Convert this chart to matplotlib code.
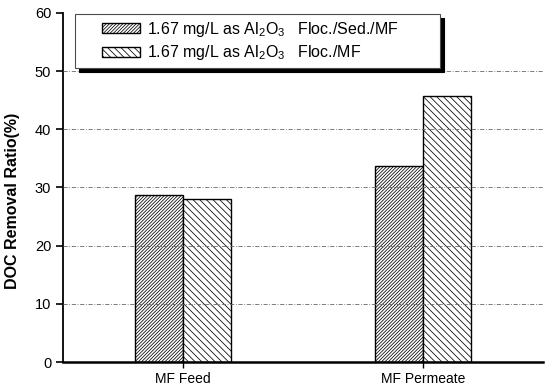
import matplotlib
matplotlib.use("Agg")
import matplotlib.pyplot as plt
import numpy as np
from matplotlib.container import BarContainer
from matplotlib.legend_handler import HandlerPatch, update_from_first_child
from matplotlib.patches import Rectangle

plt.rcParams["font.family"] = ["Liberation Sans", "DejaVu Sans"]
plt.rcParams["mathtext.default"] = "regular"
plt.rcParams["hatch.linewidth"] = 0.55

# --- Data --------------------------------------------------------------------
categories = ["MF Feed", "MF Permeate"]
sed_mf = [28.7, 33.7]      # Floc./Sed./MF
floc_mf = [28.1, 45.8]     # Floc./MF
series_labels = [
    "1.67 mg/L as Al$_2$O$_3$   Floc./Sed./MF",
    "1.67 mg/L as Al$_2$O$_3$   Floc./MF",
]
yticks = [0, 10, 20, 30, 40, 50, 60]


# legend swatch pushed to the right so the frame has a wide left margin
def shifted_swatch(legend, orig_handle, xdescent, ydescent, width, height, fontsize):
    off = 1.35 * fontsize
    return Rectangle((-xdescent + off, -ydescent), width - off, height)


# --- Figure ------------------------------------------------------------------
fig = plt.figure(figsize=(5.45, 3.89), dpi=100)
ax = fig.add_axes([0.1156, 0.0694, 0.8804, 0.8972])

x = np.arange(len(categories))
w = 0.2
ax.bar(x - w / 2, sed_mf, w, facecolor="white", edgecolor="black",
       linewidth=1.0, hatch="/" * 10, label=series_labels[0], zorder=2)
ax.bar(x + w / 2, floc_mf, w, facecolor="white", edgecolor="black",
       linewidth=1.0, hatch="\\" * 5, label=series_labels[1], zorder=2)

# dash-dot horizontal grid drawn over the bars
for yv in yticks[1:-1]:
    ax.axhline(yv, color="0.4", linewidth=0.6,
               linestyle=(0, (5, 2, 1, 2)), zorder=3)

ax.set_xlim(-0.5, 1.5)
ax.set_ylim(0, 60)
ax.set_yticks(yticks)
ax.set_xticks(x)
ax.set_xticklabels(categories, fontsize=10)
ax.tick_params(axis="y", labelsize=10.5, direction="out", length=5, width=1.2)
ax.tick_params(axis="x", direction="out", length=4, width=1)
ax.set_ylabel("DOC Removal Ratio(%)", fontsize=11.5, fontweight="bold")
ax.yaxis.set_label_coords(-0.09, 0.461)

for side in ("top", "right"):
    ax.spines[side].set_visible(False)
ax.spines["left"].set_linewidth(1.3)
ax.spines["bottom"].set_linewidth(1.8)

swatch = HandlerPatch(patch_func=shifted_swatch, update_func=update_from_first_child)
leg = ax.legend(loc="upper left", bbox_to_anchor=(0.025, 0.0, 0.76, 0.997),
                mode="expand", fontsize=11.5,
                frameon=True, fancybox=False, borderpad=0.35,
                handlelength=3.7, handleheight=0.62, handletextpad=0.45,
                labelspacing=0.3, borderaxespad=0.0,
                handler_map={BarContainer: swatch},
                shadow={"ox": 3, "oy": -3, "facecolor": "black",
                        "edgecolor": "black", "alpha": 1})
leg.get_frame().set_edgecolor("0.3")
leg.get_frame().set_linewidth(0.8)
leg.set_zorder(5)

fig.savefig("out.png", dpi=100)
